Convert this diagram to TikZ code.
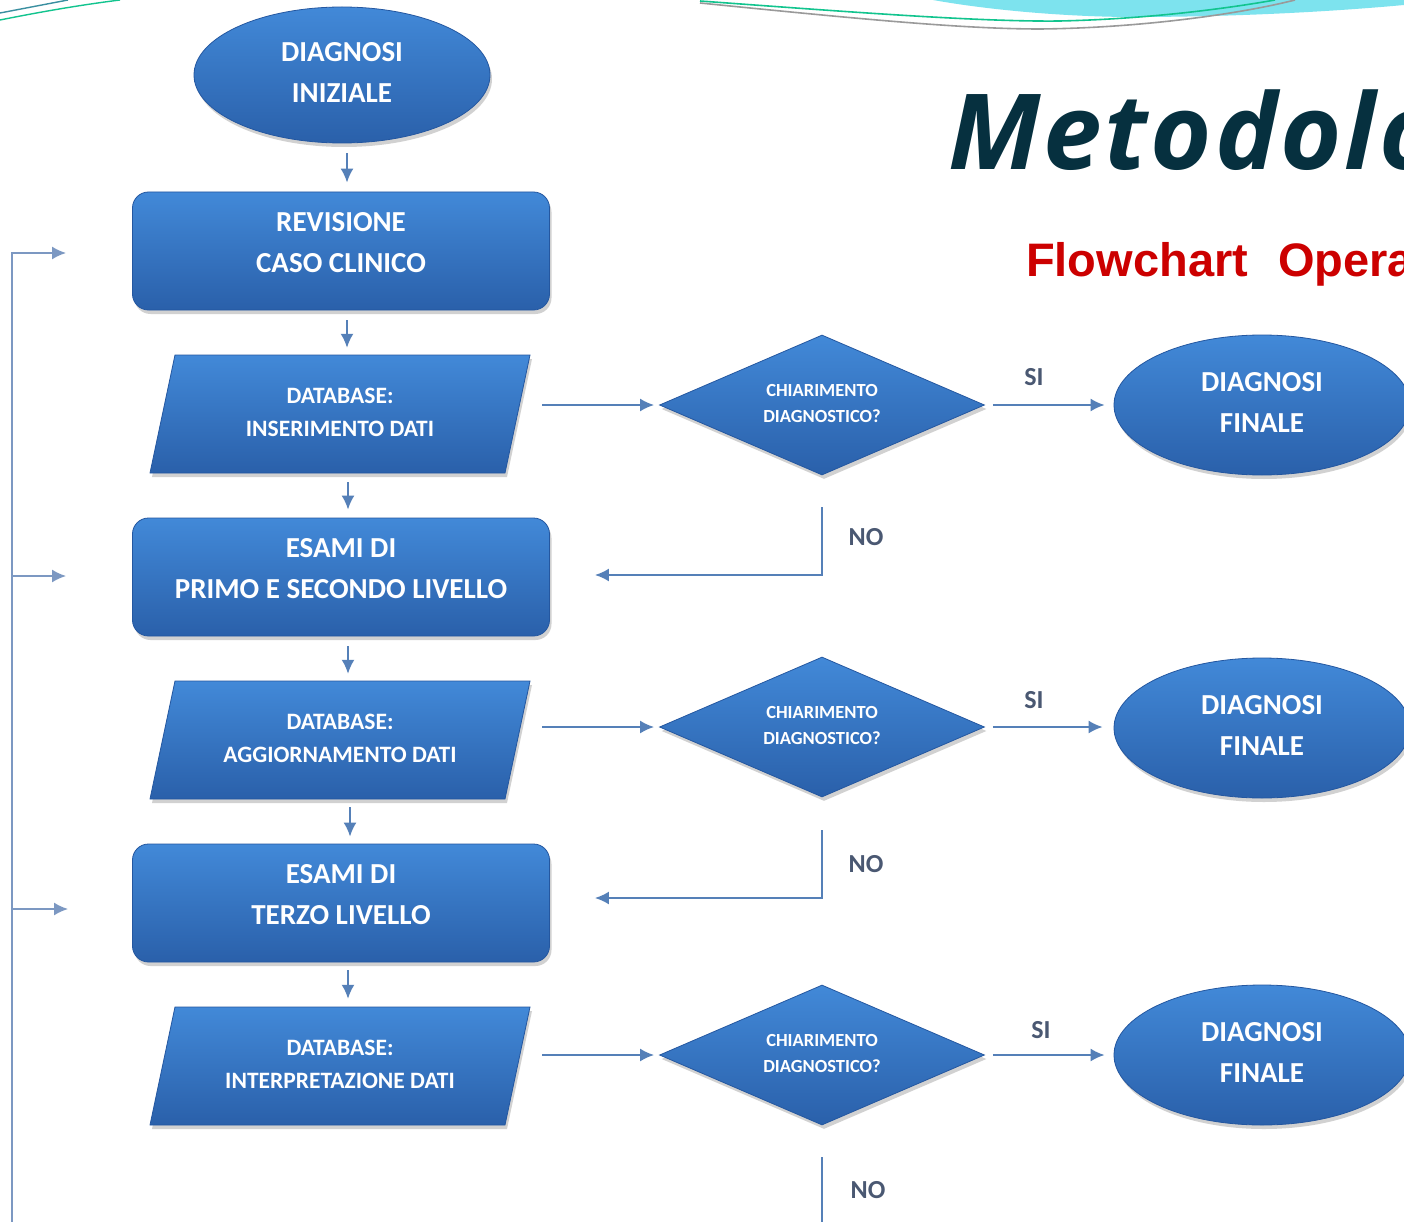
\documentclass[tikz,border=0pt]{standalone}
\usepackage{fontspec}
\setmainfont{Carlito}
\newfontfamily\titlefont{Open Sans}[LetterSpace=2.8]
\newfontfamily\subfont{Liberation Sans}
\usetikzlibrary{shapes.geometric,shadows,arrows.meta,calc}
\definecolor{boxtop}{HTML}{4289D8}
\definecolor{boxbot}{HTML}{2A60AA}
\definecolor{boxedge}{HTML}{2457A0}
\definecolor{conn}{HTML}{5580B8}
\definecolor{connlight}{HTML}{7C98C2}
\definecolor{lbl}{HTML}{4A5872}
\definecolor{titlec}{HTML}{06303F}
\definecolor{subc}{HTML}{CC0000}
\definecolor{cyanband}{HTML}{7DE3EE}
\definecolor{greenline}{HTML}{12C48E}
\definecolor{greyline}{HTML}{9A9A9A}
\definecolor{tealline}{HTML}{3A8FA0}
\begin{document}
\begin{tikzpicture}[x=1pt,y=-1pt,
  bluefill/.style={top color=boxtop, bottom color=boxbot, draw=boxedge, line width=0.8pt,
    drop shadow={shadow xshift=2pt, shadow yshift=-4pt, opacity=0.18, fill=black}},
  bluetext/.style={text=white, align=center, inner sep=0pt},
  oval/.style={bluefill, bluetext, ellipse, minimum width=296pt, minimum height=136pt,
    font=\bfseries\fontsize{29}{41}\selectfont, text depth=5pt},
  rbox/.style={bluefill, bluetext, rectangle, rounded corners=16pt, minimum width=417pt, minimum height=118pt,
    font=\bfseries\fontsize{29}{41}\selectfont, text depth=17pt},
  paratext/.style={bluetext, rectangle, minimum width=380pt, minimum height=118pt,
    font=\bfseries\fontsize{23.5}{33}\selectfont, text depth=4pt},
  decision/.style={bluefill, bluetext, diamond, aspect=2.3, minimum width=325pt, minimum height=140pt,
    font=\bfseries\fontsize{18.5}{26}\selectfont, text depth=3pt},
  arr/.style={draw=conn, line width=2pt, -{Latex[length=14pt,width=13pt]}},
  arrlight/.style={draw=connlight, line width=2pt, -{Latex[length=14pt,width=13pt]}},
  lab/.style={text=lbl, font=\bfseries\fontsize{26}{30}\selectfont, inner sep=0pt},
]
\useasboundingbox (0,0) rectangle (1404,1222);
\clip (0,0) rectangle (1404,1222);
\fill[white] (0,0) rectangle (1404,1222);

% top decorations
\fill[cyanband] (933,0) .. controls (1000,12) and (1080,17) .. (1133,17) .. controls (1250,17) and (1350,10) .. (1404,5) -- (1404,0) -- cycle;
\draw[greenline, line width=1.6pt] (700,1) .. controls (850,12) and (980,22) .. (1060,21) .. controls (1150,19) and (1230,8) .. (1275,0);
\draw[greyline, line width=1.6pt] (700,3) .. controls (850,18) and (960,29) .. (1040,29) .. controls (1140,28) and (1240,14) .. (1295,0);
\draw[tealline, line width=1.4pt] (0,13) -- (68,0);
\draw[greenline, line width=1.4pt] (0,20) .. controls (40,12) and (80,5) .. (120,0);

% title
\node[anchor=base west, inner sep=0pt, text=titlec, font=\titlefont\bfseries\itshape\fontsize{105}{110}\selectfont] (title) at (948,170) {Metodologia};
\node[anchor=base west, inner sep=0pt, text=subc, font=\subfont\bfseries\fontsize{47}{50}\selectfont] (subtitle) at (1026,277) {Flowchart\hspace{30pt}Operativo};

% main column
\node[oval] (ini) at (342,75) {DIAGNOSI\\INIZIALE};
\node[rbox] (rev) at (341,251) {REVISIONE\\CASO CLINICO};
\path[bluefill] (175,355) -- (530,355) -- (505,473) -- (150,473) -- cycle;
\node[paratext] (p1) at (340,414) {DATABASE:\\INSERIMENTO DATI};
\node[rbox] (es1) at (341,577) {ESAMI DI\\PRIMO E SECONDO LIVELLO};
\path[bluefill] (175,681) -- (530,681) -- (505,799) -- (150,799) -- cycle;
\node[paratext] (p2) at (340,740) {DATABASE:\\AGGIORNAMENTO DATI};
\node[rbox] (es2) at (341,903) {ESAMI DI\\TERZO LIVELLO};
\path[bluefill] (175,1007) -- (530,1007) -- (505,1125) -- (150,1125) -- cycle;
\node[paratext] (p3) at (340,1066) {DATABASE:\\INTERPRETAZIONE DATI};

% decisions
\node[decision] (d1) at (822,405) {CHIARIMENTO\\DIAGNOSTICO?};
\node[decision] (d2) at (822,727) {CHIARIMENTO\\DIAGNOSTICO?};
\node[decision] (d3) at (822,1055) {CHIARIMENTO\\DIAGNOSTICO?};

% final diagnoses
\node[oval, minimum height=140pt] (f1) at (1262,405) {DIAGNOSI\\FINALE};
\node[oval, minimum height=140pt] (f2) at (1262,728) {DIAGNOSI\\FINALE};
\node[oval, minimum height=140pt] (f3) at (1262,1055) {DIAGNOSI\\FINALE};

% vertical flow
\draw[arr] ($(ini.south)+(5,10)$) -- ($(ini.south |- rev.north)+(5,-9)$);
\draw[arr] ($(rev.south)+(6,10)$) -- ($(rev.south |- p1.north)+(6,-7)$);
\draw[arr] ($(p1.south)+(8,9)$) -- ($(p1.south |- es1.north)+(8,-8)$);
\draw[arr] ($(es1.south)+(7,10)$) -- ($(es1.south |- p2.north)+(7,-7)$);
\draw[arr] ($(p2.south)+(10,8)$) -- ($(p2.south |- es2.north)+(10,-7)$);
\draw[arr] ($(es2.south)+(7,8)$) -- ($(es2.south |- p3.north)+(7,-8)$);

% to decisions
\draw[arr] ($(p1.east |- d1.west)+(12,0)$) -- ([xshift=-5pt]d1.west);
\draw[arr] ($(p2.east |- d2.west)+(12,0)$) -- ([xshift=-5pt]d2.west);
\draw[arr] ($(p3.east |- d3.west)+(12,0)$) -- ([xshift=-5pt]d3.west);

% SI
\draw[arr] ([xshift=8pt]d1.east) -- ([xshift=-9pt]f1.west);
\draw[arr] ([xshift=8pt]d2.east) -- ($(f2.west |- d2.east)+(-11,0)$);
\draw[arr] ([xshift=8pt]d3.east) -- ($(f3.west |- d3.east)+(-9,0)$);
\node[lab] (si1) at (1034,377) {SI};
\node[lab] (si2) at (1034,700) {SI};
\node[lab] (si3) at (1041,1030) {SI};

% NO
\draw[arr] ([yshift=-32pt]d1.south) |- ($(es1.east)+(45,-2)$);
\draw[arr] ([yshift=-33pt]d2.south) |- ($(es2.east)+(45,-5)$);
\coordinate (nob) at (822,1222);
\draw[draw=conn, line width=2pt] ([yshift=-32pt]d3.south) -- (nob);
\node[lab] (no1) at (866,537) {NO};
\node[lab] (no2) at (866,864) {NO};
\node[lab] (no3) at (868,1190) {NO};

% feedback line on the left
\coordinate (lb) at (12,1222);
\draw[arrlight] (lb) |- ($(rev.west)+(-66,2)$);
\draw[arrlight] ($(lb |- es1.west)+(0,-1)$) -- ($(es1.west)+(-66,-1)$);
\draw[arrlight] ($(lb |- es2.west)+(0,6)$) -- ($(es2.west)+(-64,6)$);
\end{tikzpicture}
\end{document}
